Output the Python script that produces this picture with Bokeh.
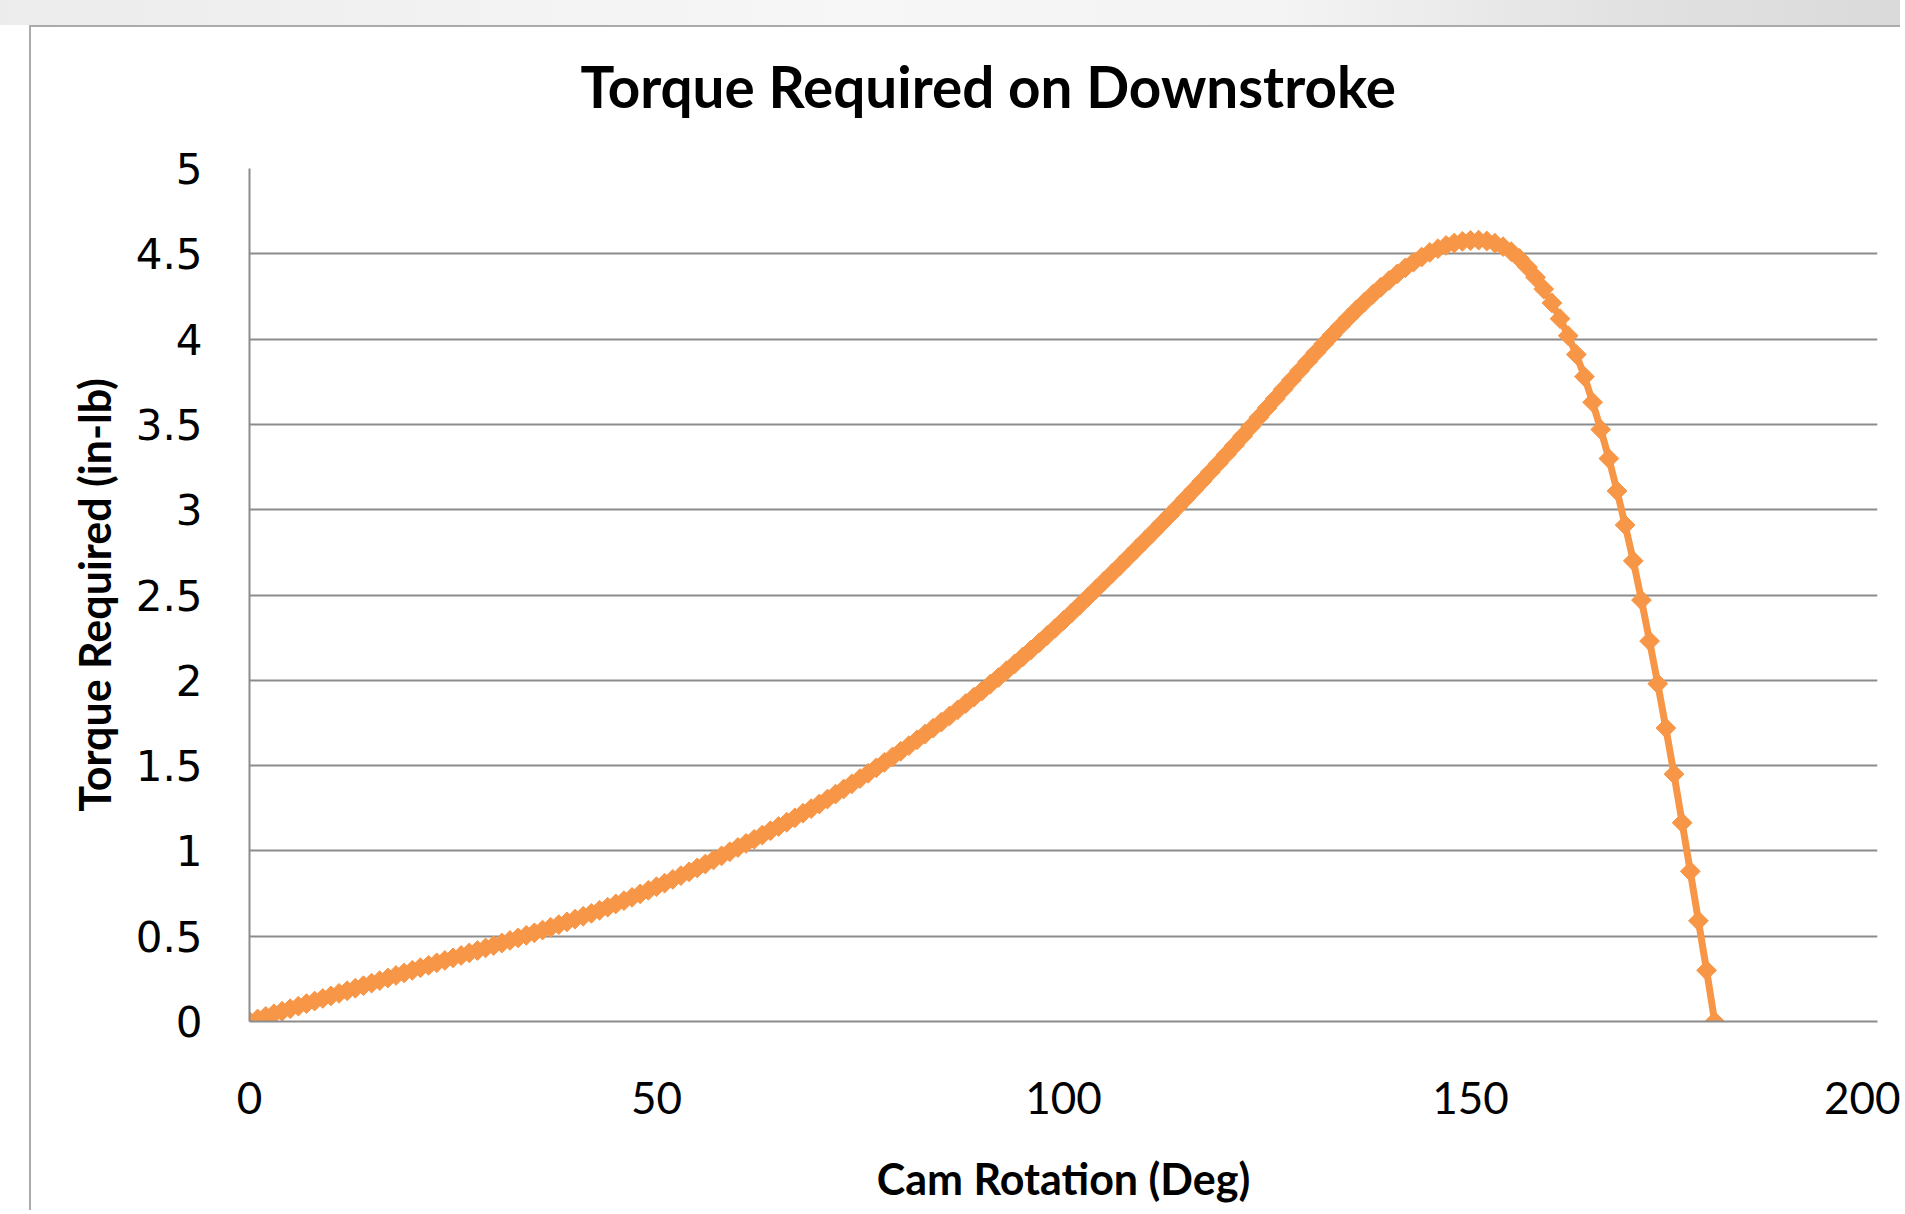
from bokeh.plotting import figure
from bokeh.models import Range1d, FixedTicker
from bokeh.embed import file_html
from bokeh.resources import INLINE
import math

# ---- data ----
cam_rotation_deg = list(range(0, 181))  # one reading per degree, 0..180
torque_in_lb = [
    0.000, 0.015, 0.030, 0.045, 0.060, 0.075, 0.090, 0.105, 0.120, 0.135,
    0.150, 0.165, 0.180, 0.195, 0.210, 0.225, 0.240, 0.255, 0.270, 0.285,
    0.300, 0.315, 0.329, 0.344, 0.358, 0.373, 0.387, 0.402, 0.416, 0.431,
    0.445, 0.460, 0.475, 0.490, 0.505, 0.520, 0.536, 0.552, 0.568, 0.584,
    0.600, 0.617, 0.634, 0.652, 0.670, 0.689, 0.708, 0.728, 0.748, 0.769,
    0.790, 0.811, 0.833, 0.855, 0.877, 0.900, 0.923, 0.947, 0.971, 0.995,
    1.020, 1.044, 1.068, 1.093, 1.118, 1.143, 1.168, 1.194, 1.221, 1.248,
    1.275, 1.304, 1.333, 1.363, 1.393, 1.424, 1.455, 1.487, 1.519, 1.551,
    1.584, 1.617, 1.651, 1.685, 1.720, 1.755, 1.791, 1.827, 1.864, 1.901,
    1.938, 1.977, 2.016, 2.056, 2.096, 2.137, 2.178, 2.220, 2.263, 2.306,
    2.350, 2.395, 2.441, 2.487, 2.534, 2.581, 2.628, 2.675, 2.723, 2.771,
    2.819, 2.867, 2.916, 2.965, 3.015, 3.065, 3.116, 3.167, 3.219, 3.271,
    3.324, 3.377, 3.431, 3.486, 3.541, 3.596, 3.651, 3.706, 3.760, 3.814,
    3.868, 3.921, 3.973, 4.024, 4.075, 4.124, 4.172, 4.218, 4.262, 4.304,
    4.344, 4.382, 4.418, 4.451, 4.481, 4.508, 4.530, 4.549, 4.563, 4.573,
    4.578, 4.580, 4.575, 4.562, 4.542, 4.513, 4.473, 4.422, 4.362, 4.293,
    4.212, 4.120, 4.020, 3.910, 3.780, 3.630, 3.470, 3.300, 3.110, 2.910,
    2.700, 2.470, 2.230, 1.980, 1.720, 1.450, 1.165, 0.880, 0.590, 0.300,
    0.000,
]
x_ticks = [0, 50, 100, 150, 200]
x_tick_labels = ["0", "50", "100", "150", "200"]
y_ticks = [0, 0.5, 1, 1.5, 2, 2.5, 3, 3.5, 4, 4.5, 5]
y_tick_labels = ["0", "0.5", "1", "1.5", "2", "2.5", "3", "3.5", "4", "4.5", "5"]

title_text = "Torque Required on Downstroke"
x_title = "Cam Rotation (Deg)"
y_title = "Torque Required (in-lb)"

ORANGE = "#F79646"
GRID = "#8C8C8C"

W, H = 1900, 1210
p = figure(
    width=W, height=H,
    x_range=Range1d(0, 200), y_range=Range1d(0, 5),
    output_backend="svg", toolbar_location=None,
    min_border_left=249, min_border_right=W - 1877,
    min_border_top=168, min_border_bottom=H - 1021,
    title=title_text,
)
p.background_fill_color = "white"
p.border_fill_color = None
p.outline_line_color = None
# page decoration (grey strip on top and the chart's border), drawn as CSS background
p.styles = {
    "background": (
        "linear-gradient(#ABABAB,#ABABAB) 29px 25px / 100% 2px no-repeat, "
        "linear-gradient(#ABABAB,#ABABAB) 29px 25px / 2px 100% no-repeat, "
        "linear-gradient(to right, #ECECEC, #F7F7F7 45%, #F3F3F3 68%, #E2E2E2 85%, #DADADA) "
        "0 0 / 100% 25px no-repeat, #FFFFFF"
    )
}

# title
p.title.align = "left"
p.title.offset = 331
p.title.standoff = 97
p.title.text_font = "Lato"
p.title.text_font_style = "bold"
p.title.text_font_size = "56.6px"
p.title.text_color = "#000000"

# axes
for ax in (p.xaxis[0], p.yaxis[0]):
    ax.axis_line_color = GRID
    ax.axis_line_width = 2
    ax.major_tick_line_color = None
    ax.minor_tick_line_color = None
    ax.major_tick_out = 0
    ax.major_tick_in = 0
    ax.major_label_text_color = "#000000"
    ax.axis_label_text_color = "#000000"
    ax.axis_label_text_font = "Lato"
    ax.axis_label_text_font_style = "bold"
    ax.axis_label_text_font_size = "43px"

p.xaxis.ticker = FixedTicker(ticks=x_ticks)
p.xaxis.major_label_overrides = {t: l for t, l in zip(x_ticks, x_tick_labels)}
p.xaxis.major_label_text_font = "Lato"
p.xaxis.major_label_text_font_size = "44px"
p.xaxis.major_label_standoff = 60
p.xaxis.axis_label = x_title
p.xaxis.axis_label_standoff = 36

p.yaxis.ticker = FixedTicker(ticks=y_ticks)
p.yaxis.major_label_overrides = {t: l for t, l in zip(y_ticks, y_tick_labels)}
p.yaxis.major_label_text_font = "DejaVu Sans"
p.yaxis.major_label_text_font_size = "42px"
p.yaxis.major_label_standoff = 47
p.yaxis.axis_label = y_title
p.yaxis.axis_label_standoff = 13

# grid
p.xgrid.visible = False
p.ygrid.ticker = FixedTicker(ticks=y_ticks)
p.ygrid.grid_line_color = GRID
p.ygrid.grid_line_width = 2

# series
p.line(cam_rotation_deg, torque_in_lb, line_color=ORANGE, line_width=7)
p.scatter(cam_rotation_deg, torque_in_lb, marker="square", angle=math.pi / 4,
          size=14, fill_color=ORANGE, line_color=ORANGE)

open("out.html", "w").write(file_html(p, INLINE))
